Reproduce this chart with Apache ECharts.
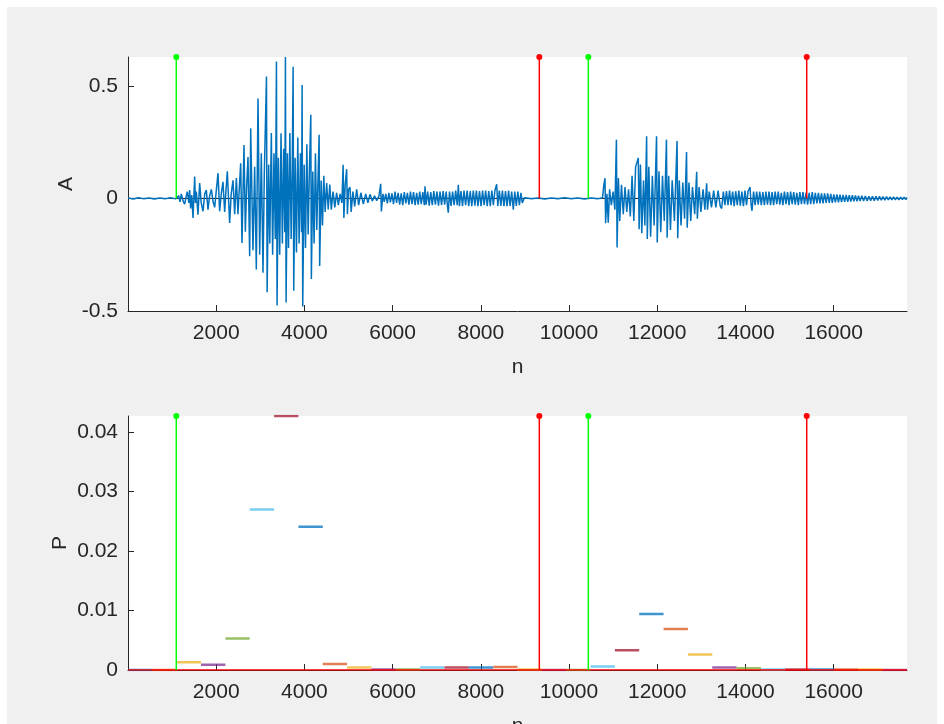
<!DOCTYPE html>
<html>
<head>
<meta charset="utf-8">
<script src="https://cdn.jsdelivr.net/npm/echarts@6/dist/echarts.min.js"></script>
<style>
  html, body { margin: 0; padding: 0; background: #fff; }
  #chart { position: absolute; left: 7px; top: 7px; width: 930px; height: 717px; }
</style>
</head>
<body>
<div id="chart"></div>
<script>
// axis ranges
const xMax = 17664;
const frameLen = 552;
const aMin = -0.5, aMax = 0.628;
const pMax = 0.0427;

// word boundaries (start green, end red)
const bounds = [1095, 9327, 10438, 15390];
const boundColors = ['#00ff00', '#ff0000', '#00ff00', '#ff0000'];

// short-time power per frame
const framePower = [
  0.0000, 0.0000, 0.0013, 0.0009, 0.0053, 0.0270, 0.0427, 0.0241,
  0.0010, 0.0004, 0.0001, 0.0001, 0.0004, 0.0004, 0.0004, 0.0005,
  0.0001, 0.0000, 0.0000, 0.0006, 0.0033, 0.0094, 0.0069, 0.0026,
  0.0004, 0.0003, 0.0001, 0.0001, 0.0001, 0.0001, 0.0001, 0.0000
];
const frameColors = ['#0072bd', '#d95319', '#edb120', '#7e2f8e', '#77ac30', '#4dbeee', '#a2142f'];

// waveform as [n, A]
const signal = [
  [0,0.002],[120,-0.003],[240,0.003],[360,-0.002],[480,0.002],[600,-0.003],[720,0.002],[840,-0.002],[960,0.003],[1080,-0.002],
  [1150,0.012],[1180,-0.015],[1209,0.02],[1250,-0.012],[1285,-0.025],[1320,0.01],[1345,0.03],[1380,-0.02],[1398,0.037],[1420,-0.045],
  [1445,0.015],[1474,-0.087],[1512,0.097],[1530,-0.02],[1549,0.03],[1587,-0.072],[1625,0.068],[1660,-0.02],[1701,-0.057],[1740,0.02],
  [1776,0.037],[1814,-0.05],[1850,0.01],[1889,0.04],[1930,-0.015],[1965,-0.04],[2000,0.03],[2041,0.112],[2078,-0.057],[2115,0.02],
  [2154,0.074],[2192,-0.06],[2220,0.03],[2252,0.12],[2305,-0.109],[2340,0.02],[2381,0.08],[2419,-0.07],[2457,0.09],[2494,-0.07],
  [2525,0.05],[2555,0.156],[2585,-0.198],[2630,0.237],[2661,-0.148],[2690,0.05],[2721,0.184],[2759,-0.257],[2782,0.311],[2834,-0.23],
  [2872,0.14],[2910,-0.316],[2948,0.444],[2986,-0.25],[3023,0.2],[3061,-0.33],[3090,0.1],
  [3140,0.541],[3155,-0.417],[3190,0.15],[3215,-0.2],[3250,0.29],[3280,-0.25],[3310,0.2],[3340,-0.18],
  [3366,0.608],[3380,-0.476],[3410,0.18],[3440,-0.25],[3470,0.289],[3500,-0.2],[3530,0.22],[3555,-0.15],
  [3570,0.628],[3585,-0.462],[3615,0.2],[3640,-0.22],[3670,0.29],[3700,-0.18],[3725,0.15],
  [3744,0.585],[3758,-0.41],[3790,0.18],[3820,-0.24],[3850,0.27],[3880,-0.2],[3910,0.2],[3935,-0.15],
  [3948,0.504],[3962,-0.48],[3995,0.15],[4025,-0.22],[4055,0.24],[4085,-0.16],[4115,0.14],
  [4145,0.372],[4158,-0.358],[4190,0.12],[4220,-0.2],[4250,0.2],[4280,-0.14],[4310,0.1],
  [4334,0.283],[4346,-0.30],[4380,0.08],[4410,-0.12],[4440,0.1],[4470,-0.06],
  [4505,0.068],[4540,-0.049],[4575,0.062],[4610,-0.05],[4650,0.03],[4690,-0.04],[4730,0.025],[4770,-0.03],[4810,0.02],[4850,-0.02],
  [4878,0.149],[4895,-0.087],[4925,0.06],[4958,0.13],[4975,-0.07],[5000,0.04],[5034,0.05],[5060,-0.06],[5100,0.03],[5140,-0.035],
  [5185,0.04],[5230,-0.03],[5280,0.025],[5336,-0.025],[5390,0.02],[5440,-0.02],[5487,0.018],[5540,-0.012],[5590,0.012],[5639,-0.01],
  [5690,0.01],[5730,0.065],[5745,-0.058],[5780,0.02],
  [5810,-0.015],[5845,0.02],[5880,-0.022],[5915,0.025],[5950,-0.018],[5985,0.022],[6020,-0.025],[6055,0.03],[6090,-0.02],[6125,0.025],
  [6160,-0.028],[6195,0.022],[6230,-0.03],[6265,0.028],[6300,-0.022],[6335,0.025],[6370,-0.028],[6405,0.03],[6440,-0.025],[6475,0.028],
  [6510,-0.03],[6545,0.025],[6580,-0.028],[6615,0.03],[6650,-0.025],[6685,0.028],[6720,-0.03],[6734,0.054],[6760,-0.028],[6795,0.03],
  [6830,-0.032],[6865,0.028],[6900,-0.03],[6935,0.032],[6970,-0.028],[7005,0.03],[7040,-0.032],[7075,0.03],[7110,-0.03],[7145,0.033],
  [7180,-0.028],[7215,0.03],[7245,-0.035],[7263,-0.063],[7290,0.03],[7325,-0.033],[7360,0.03],[7395,-0.03],[7430,0.035],[7465,-0.03],
  [7490,0.06],[7515,-0.035],[7550,0.033],[7585,-0.035],[7620,0.035],[7655,-0.03],[7690,0.035],[7725,-0.035],[7760,0.033],[7795,-0.035],
  [7830,0.035],[7865,-0.032],[7900,0.035],[7935,-0.035],[7970,0.033],[8005,-0.035],[8040,0.035],[8075,-0.03],[8110,0.035],[8145,-0.035],
  [8180,0.033],[8215,-0.035],[8250,0.035],[8285,-0.03],[8320,0.035],[8360,0.063],[8385,-0.035],[8420,0.035],[8455,-0.033],[8490,0.035],
  [8525,-0.035],[8560,0.033],[8595,-0.035],[8630,0.035],[8665,-0.033],[8700,0.03],[8737,-0.05],[8770,0.03],[8805,-0.033],[8840,0.03],
  [8875,-0.03],[8910,0.025],[8940,-0.02],
  [8990,0.003],[9150,-0.002],[9300,0.002],[9450,-0.003],[9600,0.002],[9750,-0.002],[9900,0.003],[10050,-0.002],[10200,0.002],[10350,-0.003],
  [10500,0.002],[10650,-0.002],[10760,0.003],
  [10790,0.06],[10816,0.09],[10830,-0.11],[10860,0.02],[10890,-0.108],[10920,0.04],[10960,-0.03],[11000,0.03],[11040,-0.05],
  [11075,0.261],[11090,-0.218],[11120,0.09],[11150,-0.1],[11190,0.06],[11230,-0.07],[11270,0.05],[11310,-0.06],[11350,0.04],[11390,-0.08],
  [11430,0.1],[11470,-0.1],[11510,0.14],
  [11571,0.18],[11590,-0.137],[11620,0.15],[11650,-0.155],[11690,0.08],[11720,-0.12],
  [11760,0.276],[11775,-0.18],[11810,0.14],[11850,-0.17],[11890,0.1],[11930,-0.12],
  [11985,0.276],[12000,-0.196],[12040,0.12],[12080,-0.15],[12120,0.1],[12160,-0.1],
  [12210,0.261],[12225,-0.175],[12260,0.1],[12300,-0.14],[12340,0.08],[12390,-0.1],
  [12450,0.255],[12465,-0.177],[12500,0.08],[12540,-0.12],[12580,0.07],[12620,-0.09],
  [12665,0.206],[12680,-0.13],[12720,0.07],[12760,-0.1],[12800,0.05],[12850,-0.07],
  [12895,0.118],[12910,-0.09],[12950,0.05],[12990,-0.06],[13040,0.04],[13080,-0.05],
  [13122,0.067],[13140,-0.05],[13180,0.03],[13230,-0.04],[13280,0.035],[13330,-0.04],[13380,0.035],[13430,-0.035],[13462,-0.045],
  [13500,0.03],[13535,-0.03],[13570,0.032],[13605,-0.03],[13640,0.035],[13675,-0.03],[13710,0.03],[13745,-0.035],[13780,0.032],[13815,-0.03],
  [13850,0.035],[13885,-0.032],[13920,0.03],[13955,-0.035],[13990,0.035],[14025,-0.03],[14060,0.032],[14104,0.05],[14130,-0.03],[14150,-0.055],
  [14185,0.03],[14220,-0.03],[14255,0.03],[14290,-0.028],[14325,0.03],[14360,-0.03],[14395,0.028],[14430,-0.03],[14465,0.03],[14500,-0.028],
  [14535,0.03],[14570,-0.03],[14605,0.028],[14640,-0.03],[14675,0.03],[14710,-0.025],[14745,0.03],[14780,-0.028],[14815,0.025],[14850,-0.03],
  [14885,0.03],[14920,-0.025],[14955,0.028],[14990,-0.03],[15025,0.03],[15060,-0.025],[15095,0.028],[15130,-0.028],[15165,0.025],[15200,-0.03],
  [15235,0.028],[15270,-0.025],[15305,0.028],[15340,-0.025],[15375,0.025],[15410,-0.028],[15445,0.025],[15480,-0.025],[15515,0.028],[15550,-0.025],
  [15585,0.025],[15620,-0.022],[15655,0.025],[15690,-0.022],[15725,0.022],[15760,-0.022],[15795,0.022],[15830,-0.02],[15865,0.022],[15900,-0.02],
  [15935,0.02],[15970,-0.02],[16005,0.018],[16040,-0.018],[16075,0.018],[16110,-0.017],[16145,0.017],[16180,-0.016],[16215,0.016],[16250,-0.015],
  [16285,0.015],[16320,-0.015],[16355,0.014],[16390,-0.014],[16425,0.014],[16460,-0.013],[16495,0.013],[16530,-0.013],[16565,0.012],[16600,-0.012],
  [16640,0.012],[16680,-0.011],[16720,0.011],[16760,-0.011],[16800,0.01],[16840,-0.01],[16880,0.01],[16920,-0.01],[16960,0.009],[17000,-0.009],
  [17040,0.009],[17080,-0.008],[17120,0.008],[17160,-0.008],[17200,0.008],[17240,-0.007],[17280,0.007],[17320,-0.007],[17360,0.007],[17400,-0.006],
  [17440,0.006],[17480,-0.006],[17520,0.006],[17560,-0.005],[17600,0.005],[17640,-0.005],[17664,0.004]
];

const font = 'Liberation Sans, Arial, Helvetica, sans-serif';
const ink = '#262626';

function xAxisFor(idx) {
  return {
    type: 'value', gridIndex: idx, min: 0, max: xMax, interval: 2000,
    name: 'n', nameLocation: 'middle', nameGap: 46, nameMoveOverlap: false,
    nameTextStyle: { color: ink, fontSize: 21, fontFamily: font },
    axisLine: { onZero: false, lineStyle: { color: ink, width: 1 } },
    axisTick: { inside: true, length: 6, lineStyle: { color: ink } },
    axisLabel: {
      color: ink, fontSize: 21, fontFamily: font, margin: 12,
      showMinLabel: false, showMaxLabel: false,
      formatter: v => String(v)
    },
    splitLine: { show: false }
  };
}

function yAxisFor(idx, name, gap, min, max, interval) {
  return {
    type: 'value', gridIndex: idx, min: min, max: max, interval: interval,
    name: name, nameLocation: 'middle', nameGap: gap, nameRotate: 90, nameMoveOverlap: false,
    nameTextStyle: { color: ink, fontSize: 21, fontFamily: font },
    axisLine: { show: true, onZero: false, lineStyle: { color: ink, width: 1 } },
    axisTick: { show: true, inside: true, length: 6, lineStyle: { color: ink } },
    axisLabel: { color: ink, fontSize: 21, fontFamily: font, margin: 10, showMaxLabel: false },
    splitLine: { show: false }
  };
}

function stem(idx, x, top, color) {
  return {
    type: 'line', xAxisIndex: idx, yAxisIndex: idx,
    data: [{ value: [x, 0], symbol: 'none' }, { value: [x, top] }],
    symbol: 'circle', symbolSize: 6, showSymbol: true,
    lineStyle: { color: color, width: 1.5 }, itemStyle: { color: color },
    z: 5, silent: true
  };
}

const series = [];

// top: zero line and waveform
series.push({
  type: 'line', xAxisIndex: 0, yAxisIndex: 0, data: [[0, 0], [xMax, 0]],
  symbol: 'none', lineStyle: { color: '#1a1a1a', width: 1 }, z: 1, silent: true
});
series.push({
  type: 'line', xAxisIndex: 0, yAxisIndex: 0, data: signal,
  symbol: 'none', lineStyle: { color: '#0072bd', width: 1.5 }, z: 2, silent: true
});

// bottom: one segment per frame
framePower.forEach((p, k) => {
  series.push({
    type: 'line', xAxisIndex: 1, yAxisIndex: 1,
    data: [[k * frameLen, p], [(k + 1) * frameLen, p]],
    symbol: 'none', lineStyle: { color: frameColors[k % 7], width: 2.5, opacity: 0.75 },
    z: 2, silent: true
  });
});
series.push({
  type: 'line', xAxisIndex: 1, yAxisIndex: 1, data: [[0, 0], [xMax, 0]],
  symbol: 'none', lineStyle: { color: '#ff0000', width: 1.5 }, z: 3, silent: true
});

// boundary stems on both plots
bounds.forEach((b, i) => {
  series.push(stem(0, b, aMax, boundColors[i]));
  series.push(stem(1, b, pMax, boundColors[i]));
});

const chart = echarts.init(document.getElementById('chart'));
chart.setOption({
  backgroundColor: '#f0f0f0',
  animation: false,
  grid: [
    { left: 121, top: 50, width: 779, height: 254, show: true, backgroundColor: '#fff', borderWidth: 0, outerBoundsMode: 'none' },
    { left: 121, top: 409, width: 779, height: 254, show: true, backgroundColor: '#fff', borderWidth: 0, outerBoundsMode: 'none' }
  ],
  xAxis: [xAxisFor(0), xAxisFor(1)],
  yAxis: [yAxisFor(0, 'A', 51, aMin, aMax, 0.5), yAxisFor(1, 'P', 57, 0, pMax, 0.01)],
  series: series
});
</script>
</body>
</html>
